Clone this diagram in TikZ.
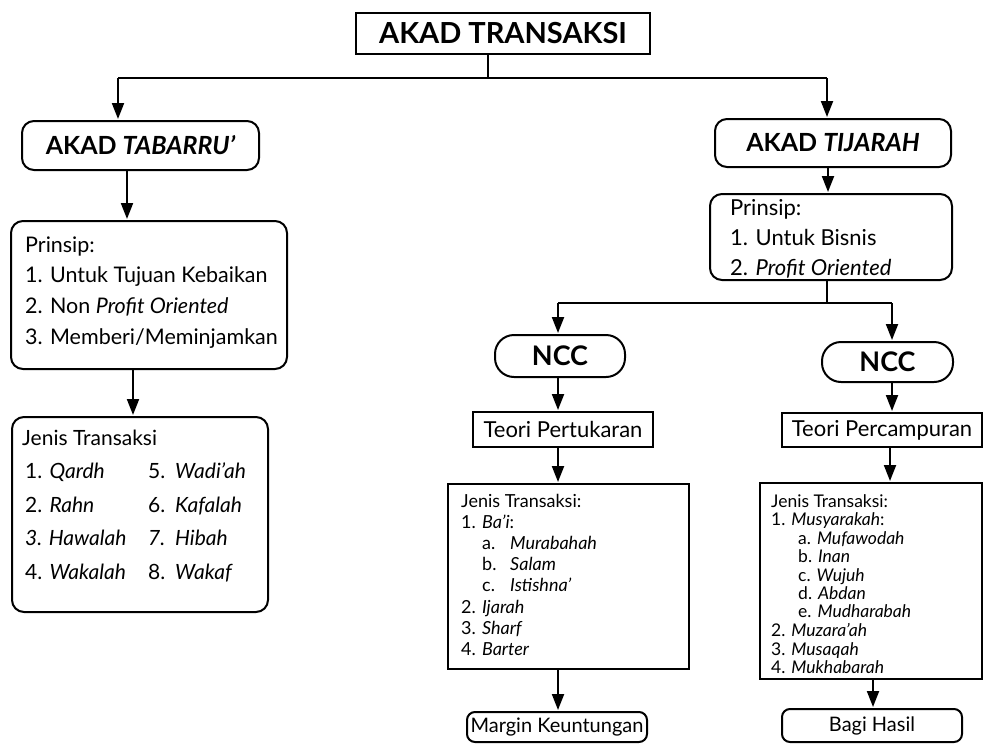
\documentclass[tikz,border=0pt]{standalone}
\usepackage{fontspec}
\setmainfont{Lato}
\usetikzlibrary{arrows.meta}
\tikzset{
  ln/.style={line width=2pt},
  arr/.style={line width=2pt,-{Triangle[length=16pt,width=12pt]},shorten >=1pt},
  sqbox/.style={draw,line width=2pt,inner sep=0pt},
  rbox/.style={draw,line width=2pt,rounded corners=12pt,inner sep=0pt},
  pill/.style={draw,line width=2pt,rounded corners=19pt,inner sep=0pt},
  hd/.style={font=\fontsize{25}{29}\selectfont\bfseries},
  big/.style={font=\fontsize{21.5}{30.7}\selectfont},
  mid/.style={font=\fontsize{22}{26}\selectfont},
  lst/.style={anchor=base west,inner sep=0pt},
}
\begin{document}
\begin{tikzpicture}[x=1pt,y=-1pt]
\useasboundingbox (0,0) rectangle (984,744);
% boxes
\node[sqbox,minimum width=294pt,minimum height=41pt,font=\fontsize{29}{32}\selectfont\bfseries] (top) at (503,33.5) {AKAD TRANSAKSI};
\node[rbox,minimum width=237pt,minimum height=49pt,hd] (tab) at (140.5,145.5) {AKAD \textit{TABARRU'}};
\node[rbox,minimum width=236pt,minimum height=48pt,hd] (tij) at (833,143) {AKAD \textit{TIJARAH}};
\node[rbox,minimum width=276pt,minimum height=148pt] (lp) at (149,295) {};
\node[rbox,minimum width=256pt,minimum height=195pt] (lj) at (140,514.5) {};
\node[rbox,minimum width=242pt,minimum height=86pt] (rp) at (831,237) {};
\node[pill,minimum width=130pt,minimum height=42pt,font=\fontsize{27}{30}\selectfont\bfseries] (ncc1) at (560,356) {NCC};
\node[pill,minimum width=131pt,minimum height=40pt,font=\fontsize{27}{30}\selectfont\bfseries] (ncc2) at (887.5,362) {NCC};
\node[sqbox,minimum width=180pt,minimum height=35pt,mid] (t1) at (563,429.5) {Teori Pertukaran};
\node[sqbox,minimum width=200pt,minimum height=34pt,mid] (t2) at (882,430) {Teori Percampuran};
\node[sqbox,minimum width=241pt,minimum height=185pt] (j1) at (568.5,576.5) {};
\node[sqbox,minimum width=222pt,minimum height=196pt] (j2) at (871,581) {};
\node[rbox,rounded corners=8pt,minimum width=180pt,minimum height=30pt,font=\fontsize{20}{24}\selectfont] (mk) at (557,727) {Margin Keuntungan};
\node[rbox,rounded corners=8pt,minimum width=180pt,minimum height=33pt,font=\fontsize{20}{24}\selectfont] (bh) at (872,725.5) {Bagi Hasil};
% texts
\node[lst,big] (lpt) at (25,252) {\begin{tabular}[t]{@{}l@{}}Prinsip:\\1. Untuk Tujuan Kebaikan\\2. Non \textit{Profit Oriented}\\3. Memberi/Meminjamkan\end{tabular}};
\node[lst,font=\fontsize{21}{33.5}\selectfont] (ljt) at (22,445) {\begin{tabular}[t]{@{}l@{}}Jenis Transaksi\\
\hspace{3pt}\makebox[123pt][l]{1. \textit{Qardh}}\makebox[27pt][l]{5.}\textit{Wadi'ah}\\
\hspace{3pt}\makebox[123pt][l]{2. \textit{Rahn}}\makebox[27pt][l]{6.}\textit{Kafalah}\\
\hspace{3pt}\makebox[123pt][l]{\textit{3. Hawalah}}\makebox[27pt][l]{\textit{7.}}\textit{Hibah}\\
\hspace{3pt}\makebox[123pt][l]{4. \textit{Wakalah}}\makebox[27pt][l]{8.}\textit{Wakaf}\end{tabular}};
\node[lst,font=\fontsize{22}{30}\selectfont] (rpt) at (730,215) {\begin{tabular}[t]{@{}l@{}}Prinsip:\\1. Untuk Bisnis\\2. \textit{Profit Oriented}\end{tabular}};
\node[lst,font=\fontsize{18}{21.1}\selectfont] (j1t) at (461,507.5) {\begin{tabular}[t]{@{}l@{}}Jenis Transaksi:\\1. \textit{Ba'i}:\\
\hspace{21pt}\makebox[28pt][l]{a.}\textit{Murabahah}\\
\hspace{21pt}\makebox[28pt][l]{b.}\textit{Salam}\\
\hspace{21pt}\makebox[28pt][l]{c.}\textit{Istishna'}\\
2. \textit{Ijarah}\\3. \textit{Sharf}\\4. \textit{Barter}\end{tabular}};
\node[lst,font=\fontsize{17.5}{18.4}\selectfont] (j2t) at (771,507.5) {\begin{tabular}[t]{@{}l@{}}Jenis Transaksi:\\1. \textit{Musyarakah}:\\
\hspace{27pt}a. \textit{Mufawodah}\\
\hspace{27pt}b. \textit{Inan}\\
\hspace{27pt}c. \textit{Wujuh}\\
\hspace{27pt}d. \textit{Abdan}\\
\hspace{27pt}e. \textit{Mudharabah}\\
2. \textit{Muzara'ah}\\3. \textit{Musaqah}\\4. \textit{Mukhabarah}\end{tabular}};
% connectors
\coordinate (jt) at (488,78);
\coordinate (jl) at (118,78);
\coordinate (jr) at (827,78);
\draw[ln] (top.south -| jt) -- (jt);
\draw[ln] (jl) -- (jr);
\draw[arr] (jl) -- (tab.north -| jl);
\draw[arr] (jr) -- (tij.north -| jr);
\coordinate (xa) at (127,0);
\coordinate (xb) at (133,0);
\coordinate (xc) at (828,0);
\draw[arr] (tab.south -| xa) -- (lp.north -| xa);
\draw[arr] (lp.south -| xb) -- (lj.north -| xb);
\draw[arr] (tij.south -| xc) -- (rp.north -| xc);
\coordinate (jm) at (827,303);
\coordinate (jml) at (558,303);
\coordinate (jmr) at (892,303);
\draw[ln] (rp.south -| jm) -- (jm);
\draw[ln] (jml) -- (jmr);
\draw[arr] (jml) -- (ncc1.north -| jml);
\draw[arr] (jmr) -- (ncc2.north -| jmr);
\draw[arr] (ncc1.south -| jml) -- (t1.north -| jml);
\draw[arr] (ncc2.south -| jmr) -- (t2.north -| jmr);
\draw[arr] (t1.south -| jml) -- (j1.north -| jml);
\coordinate (xd) at (890,0);
\coordinate (xe) at (873,0);
\draw[arr] (t2.south -| xd) -- (j2.north -| xd);
\draw[arr] (j1.south -| jml) -- (mk.north -| jml);
\draw[arr] (j2.south -| xe) -- (bh.north -| xe);
\end{tikzpicture}
\end{document}
